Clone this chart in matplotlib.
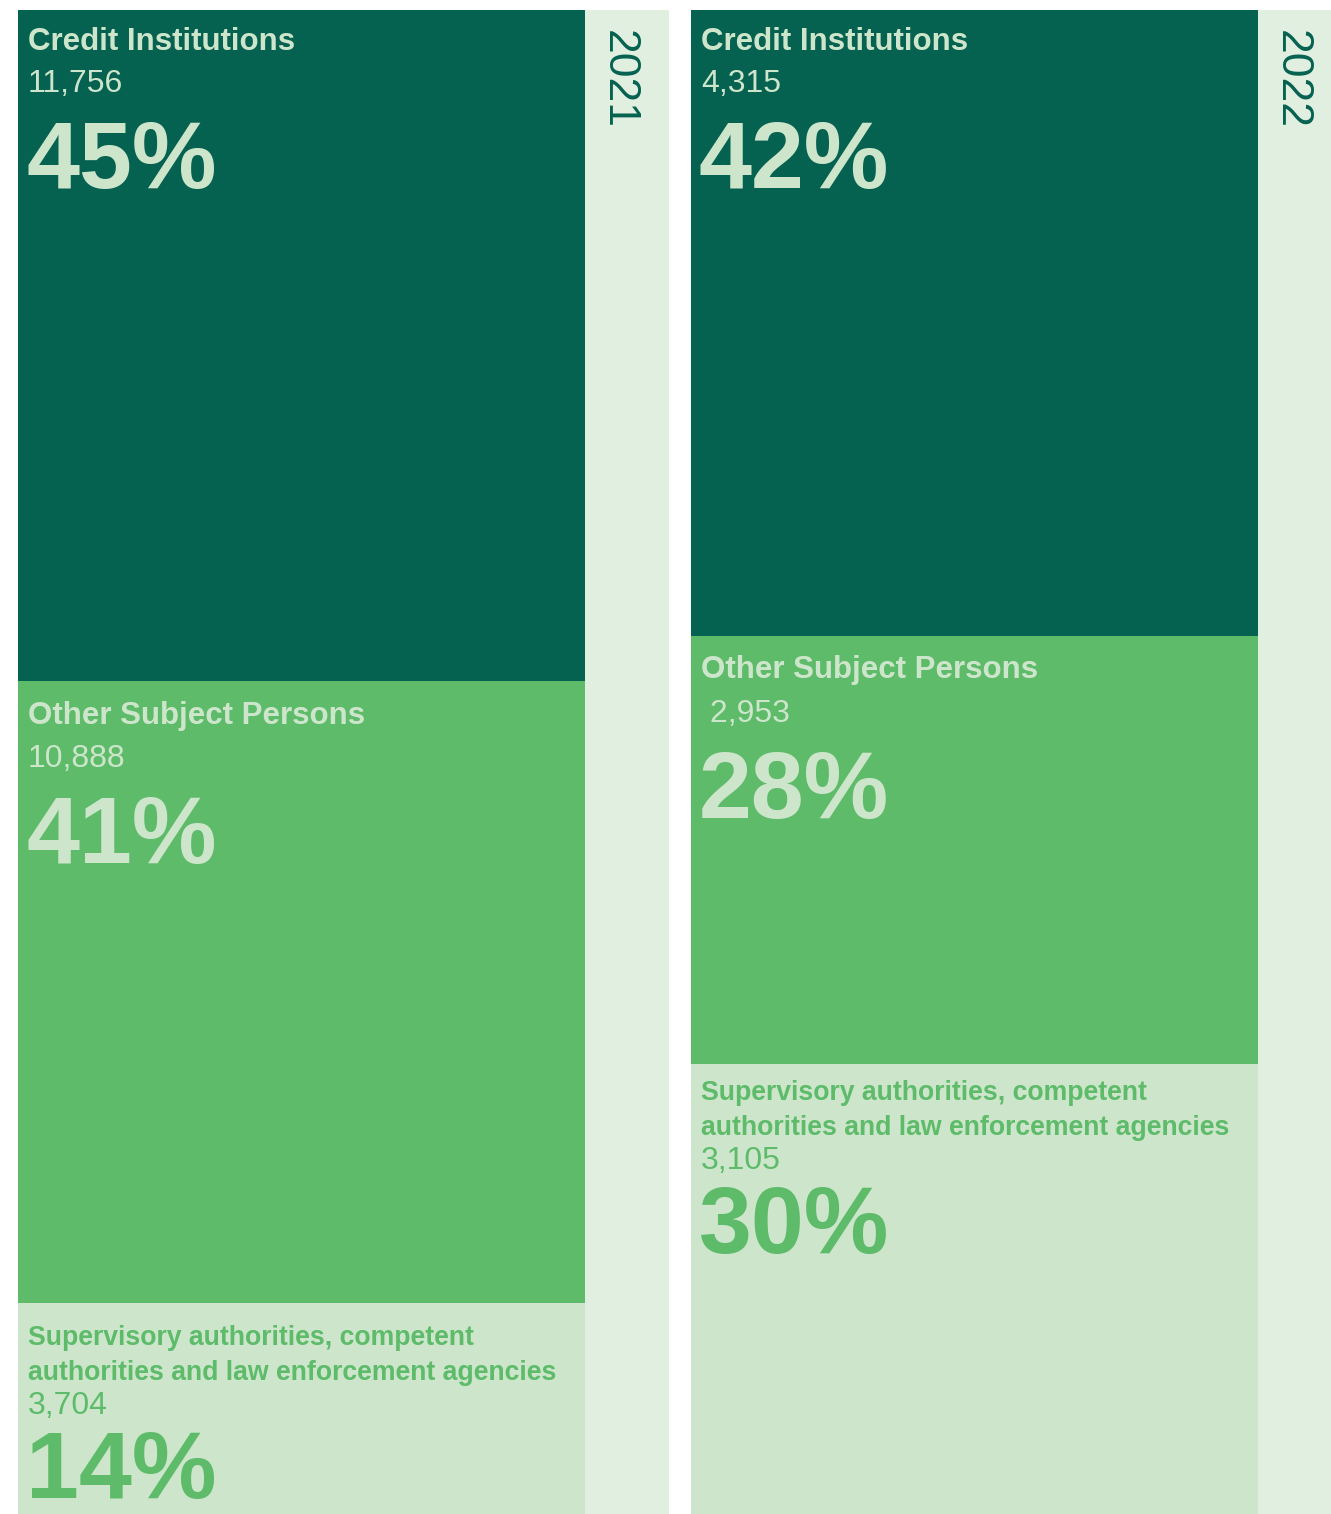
import matplotlib.pyplot as plt
from matplotlib.transforms import offset_copy

plt.rcParams["font.family"] = ["Liberation Sans", "DejaVu Sans"]

# Data
years = ["2021", "2022"]
categories = [
    "Credit Institutions",
    "Other Subject Persons",
    "Supervisory authorities, competent\nauthorities and law enforcement agencies",
]
values_2021 = [11756, 10888, 3704]
values_2022 = [4315, 2953, 3105]
value_labels_2021 = ["11,756", "10,888", "3,704"]
value_labels_2022 = ["4,315", " 2,953", "3,105"]

# Colours
fill_colors = ["#056150", "#5dbb6a", "#cde6cb"]
text_colors = ["#cde6cb", "#cde6cb", "#5dbb6a"]
strip_color = "#e0efdf"
year_color = "#056150"

W, H = 1331, 1514
fig = plt.figure(figsize=(W / 100, H / 100), dpi=100)
fig.patch.set_facecolor("white")

# column geometry in pixels: (left, bar width, strip width)
columns = [(18, 567, 84), (691, 567, 73)]
top = 10

# text offsets below each segment top (px): title baseline, number, percentage
offsets = {
    "2021": [(40, 82, 178), (43, 86, 182), (42, 111, 195)],
    "2022": [(40, 82, 178), (42, 86, 182), (36, 105, 189)],
}

for (left, bar_w, strip_w), year, vals, labels in zip(
    columns, years, [values_2021, values_2022], [value_labels_2021, value_labels_2022]
):
    total_w = bar_w + strip_w
    ax = fig.add_axes([left / W, 0, total_w / W, (H - top) / H])
    total = sum(vals)
    ax.set_xlim(0, total_w)
    ax.set_ylim(total, 0)
    ax.axis("off")

    ax.axvspan(bar_w, total_w, color=strip_color, lw=0)

    def place(dy):
        return offset_copy(ax.transData, fig=fig, x=0, y=-dy, units="dots")

    bottom = 0
    for i, (cat, v, lab) in enumerate(zip(categories, vals, labels)):
        ax.bar(0, v, bottom=bottom, width=bar_w, align="edge",
               color=fill_colors[i], linewidth=0)

        pct = round(v / total * 100)
        title_y, num_y, pct_y = offsets[year][i]
        lines = cat.split("\n")
        title_size = 22.5 if len(lines) == 1 else 19.2
        for k, line in enumerate(lines):
            ax.text(10, bottom, line, transform=place(title_y + 35 * k),
                    fontsize=title_size, fontweight="bold",
                    color=text_colors[i], va="baseline", ha="left")
        ax.text(10, bottom, lab, transform=place(num_y), fontsize=23,
                color=text_colors[i], va="baseline", ha="left")
        ax.text(8, bottom, f"{pct}%", transform=place(pct_y), fontsize=68.5,
                fontweight="bold", color=text_colors[i], va="baseline",
                ha="left")
        bottom += v

    # year label in the side strip, read top to bottom
    ax.text(bar_w + 33, 0, year,
            transform=offset_copy(ax.transData, fig=fig, x=0, y=-20, units="dots"),
            rotation=270, fontsize=32, color=year_color,
            ha="center", va="top")

fig.savefig("out.png", dpi=100)
